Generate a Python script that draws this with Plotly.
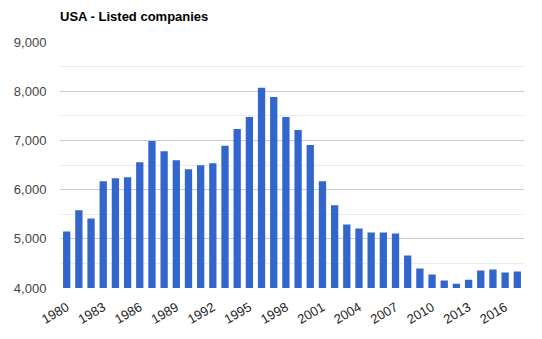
import plotly.graph_objects as go

years = list(range(1980, 2018))
companies = [5150, 5578, 5415, 6170, 6231, 6252, 6558, 6986, 6782, 6599,
             6415, 6497, 6537, 6891, 7231, 7476, 8068, 7884, 7476, 7211,
             6905, 6170, 5680, 5293, 5211, 5129, 5129, 5109, 4660, 4395,
             4272, 4150, 4088, 4170, 4354, 4374, 4313, 4333]
title_text = "USA - Listed companies"

fig = go.Figure(go.Bar(x=years, y=companies, marker_color="#3366cc",
                       marker_line_width=0))

fig.update_layout(
    width=542, height=339,
    margin=dict(l=60, r=18, t=42, b=51),
    paper_bgcolor="white", plot_bgcolor="white",
    bargap=0.4,
    font=dict(family="Liberation Sans, Arial, sans-serif", size=13, color="#444444"),
    title=dict(text="<b>" + title_text + "</b>", x=60/542, xanchor="left",
               xref="container", y=1 - 16/339, yanchor="middle", yref="container",
               font=dict(size=13, color="#000000")),
    showlegend=False,
)
fig.update_xaxes(
    range=[1979.45, 2017.55], tickmode="linear", tick0=1980, dtick=3,
    tickangle=-30, showgrid=False, zeroline=False, showline=False,
    ticks="outside", ticklen=6, tickcolor="rgba(0,0,0,0)",
    tickfont=dict(color="#222222", size=13),
)
fig.update_yaxes(
    range=[4000, 9000], tickmode="linear", tick0=4000, dtick=1000,
    tickformat=",d", showgrid=True, gridcolor="#cccccc", gridwidth=1,
    minor=dict(dtick=500, showgrid=True, gridcolor="#ebebeb", gridwidth=1),
    zeroline=False, showline=False,
    ticks="outside", ticklen=10, tickcolor="rgba(0,0,0,0)",
    tickfont=dict(color="#444444", size=13),
)

fig.write_html("out.html")
